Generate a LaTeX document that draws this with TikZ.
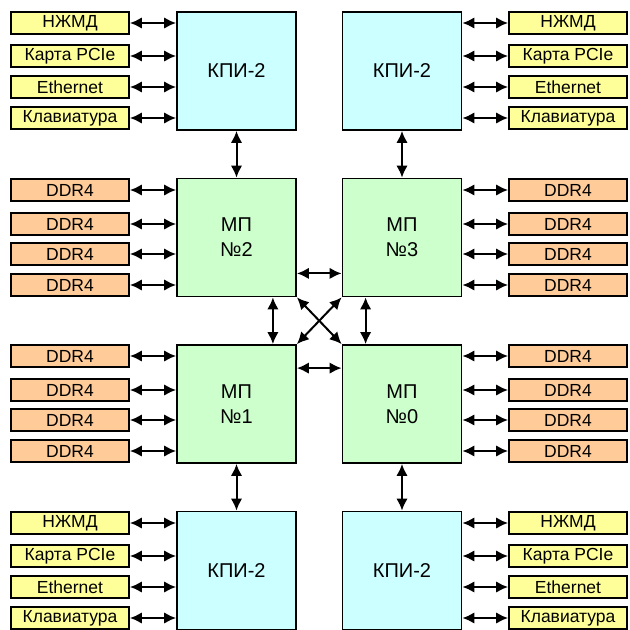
\documentclass[tikz,border=0pt]{standalone}
\usepackage{fontspec}
\setmainfont{Liberation Sans}
\usetikzlibrary{arrows.meta}
\definecolor{kpic}{HTML}{CCFFFF}
\definecolor{mpc}{HTML}{CCFFCC}
\definecolor{ddrc}{HTML}{FFCC99}
\definecolor{devc}{HTML}{FFFF99}
\begin{document}
\begin{tikzpicture}[x=1pt,y=-1pt,
  bigbox/.style={draw=black, line width=1.8pt, minimum width=119pt, minimum height=118pt, inner sep=0pt, font=\fontsize{20}{25}\selectfont, align=center},
  kpi/.style={bigbox, fill=kpic},
  mp/.style={bigbox, fill=mpc},
  smallbox/.style={draw=black, line width=1.8pt, minimum width=118pt, minimum height=22pt, inner sep=0pt, font=\fontsize{17.5}{18}\selectfont},
  dev/.style={smallbox, fill=devc},
  ddr/.style={smallbox, fill=ddrc},
  arr/.style={line width=2pt, {Latex[length=12pt,width=11.5pt]}-{Latex[length=12pt,width=11.5pt]}}
]
\useasboundingbox (0,0) rectangle (630,630);

% big boxes
\node[kpi] (k2) at (236.5,71) {КПИ-2};
\node[kpi] (k3) at (402,71) {КПИ-2};
\node[mp] (m2) at (236.5,237.5) {МП\\№2};
\node[mp] (m3) at (402,237.5) {МП\\№3};
\node[mp] (m1) at (236.5,404) {МП\\№1};
\node[mp] (m0) at (402,404) {МП\\№0};
\node[kpi] (k1) at (236.5,570.5) {КПИ-2};
\node[kpi] (k0) at (402,570.5) {КПИ-2};

% top-left devices
\node[dev] (a1) at (70,23) {НЖМД};
\node[dev] (a2) at (70,56) {Карта PCIe};
\node[dev] (a3) at (70,87) {Ethernet};
\node[dev] (a4) at (70,118) {Клавиатура};
% top-right devices
\node[dev] (b1) at (568,23) {НЖМД};
\node[dev] (b2) at (568,56) {Карта PCIe};
\node[dev] (b3) at (568,87) {Ethernet};
\node[dev] (b4) at (568,118) {Клавиатура};
% bottom-left devices
\node[dev] (c1) at (70,523) {НЖМД};
\node[dev] (c2) at (70,556) {Карта PCIe};
\node[dev] (c3) at (70,587) {Ethernet};
\node[dev] (c4) at (70,618) {Клавиатура};
% bottom-right devices
\node[dev] (d1) at (568,523) {НЖМД};
\node[dev] (d2) at (568,556) {Карта PCIe};
\node[dev] (d3) at (568,587) {Ethernet};
\node[dev] (d4) at (568,618) {Клавиатура};

% DDR left of MP2
\node[ddr] (e1) at (70,190) {DDR4};
\node[ddr] (e2) at (70,224) {DDR4};
\node[ddr] (e3) at (70,254) {DDR4};
\node[ddr] (e4) at (70,285) {DDR4};
% DDR right of MP3
\node[ddr] (f1) at (568,190) {DDR4};
\node[ddr] (f2) at (568,224) {DDR4};
\node[ddr] (f3) at (568,254) {DDR4};
\node[ddr] (f4) at (568,285) {DDR4};
% DDR left of MP1
\node[ddr] (g1) at (70,356) {DDR4};
\node[ddr] (g2) at (70,390) {DDR4};
\node[ddr] (g3) at (70,420) {DDR4};
\node[ddr] (g4) at (70,451) {DDR4};
% DDR right of MP0
\node[ddr] (h1) at (568,356) {DDR4};
\node[ddr] (h2) at (568,390) {DDR4};
\node[ddr] (h3) at (568,420) {DDR4};
\node[ddr] (h4) at (568,451) {DDR4};

% device/DDR connectors
\foreach \s/\t in {a1/k2,a2/k2,a3/k2,a4/k2,c1/k1,c2/k1,c3/k1,c4/k1,e1/m2,e2/m2,e3/m2,e4/m2,g1/m1,g2/m1,g3/m1,g4/m1}
  \draw[arr] (\s.east) -- (\s.east -| \t.west);
\foreach \s/\t in {b1/k3,b2/k3,b3/k3,b4/k3,d1/k0,d2/k0,d3/k0,d4/k0,f1/m3,f2/m3,f3/m3,f4/m3,h1/m0,h2/m0,h3/m0,h4/m0}
  \draw[arr] (\s.west) -- (\s.west -| \t.east);

% KPI - MP
\draw[arr] (k2.south) -- (m2.north);
\draw[arr] (k3.south) -- (m3.north);
\draw[arr] (m1.south) -- (k1.north);
\draw[arr] (m0.south) -- (k0.north);

% MP mesh
\draw[arr] ([yshift=24pt]m2.south east) -- ([yshift=24pt]m3.south west);
\draw[arr] ([yshift=-24pt]m1.north east) -- ([yshift=-24pt]m0.north west);
\draw[arr] ([xshift=-24pt]m2.south east) -- ([xshift=-24pt]m1.north east);
\draw[arr] ([xshift=24pt]m3.south west) -- ([xshift=24pt]m0.north west);
\draw[arr] (m2.south east) -- (m0.north west);
\draw[arr] (m3.south west) -- (m1.north east);
\end{tikzpicture}
\end{document}
